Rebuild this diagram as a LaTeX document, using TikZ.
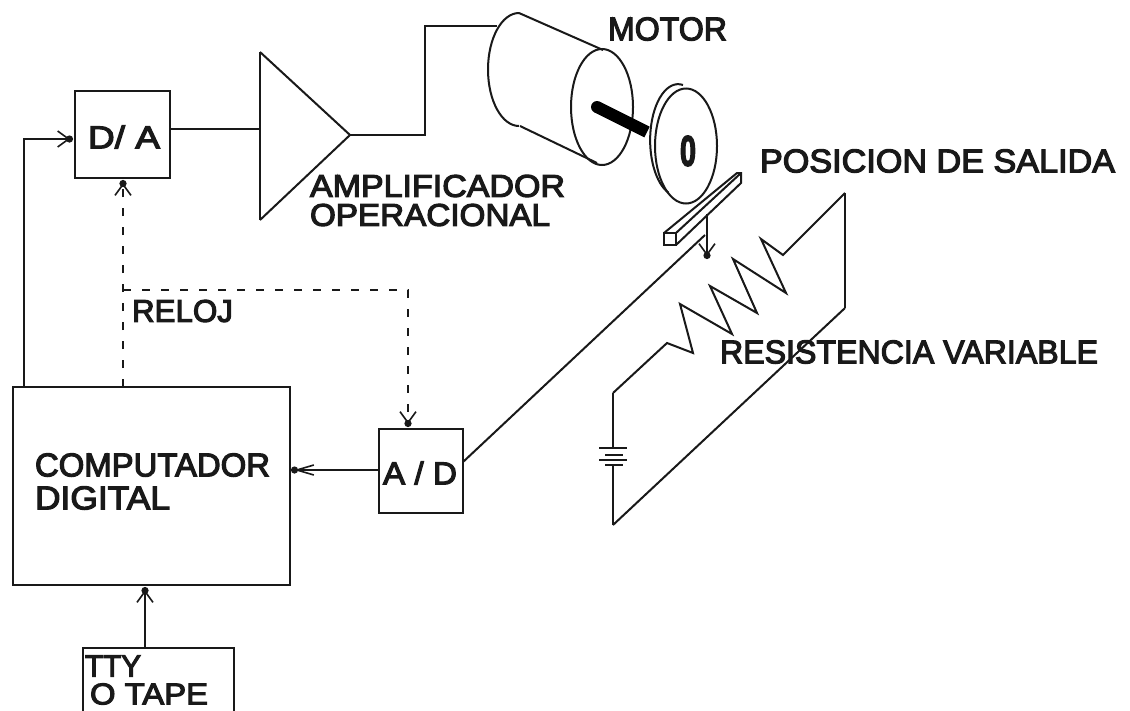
\documentclass[tikz,border=0pt]{standalone}
\usepackage{fontspec}
\usepackage{graphicx}
\setmainfont[FakeBold=3.5]{Liberation Sans}
\usetikzlibrary{arrows.meta}
\newcommand{\fitted}[3]{\resizebox{#1pt}{#2pt}{#3}}
\tikzset{
  blockbox/.style={draw=inkc,line width=2.7pt,anchor=north west,inner sep=0pt,outer sep=0pt},
  wire/.style={draw=inkc,line width=2.6pt},
  thinwire/.style={draw=inkc,line width=2pt},
  dashwire/.style={draw=inkc,line width=2.7pt,dash pattern=on 8pt off 11pt},
  barbtip/.style={-{Straight Barb[length=11pt,width=16pt,line width=1.6pt,sep=-4pt]Circle[length=7pt,sep=2pt]}},
  narrowtip/.style={-{Straight Barb[length=17pt,width=10pt,line width=1.6pt,sep=-4pt]Circle[length=7pt,sep=0pt]}},
  label/.style={anchor=west,inner sep=0pt,outer sep=0pt,text=inkc}
}
\definecolor{inkc}{RGB}{25,25,25}
\begin{document}
\begin{tikzpicture}[x=1pt,y=1pt,yscale=-1]
\path[use as bounding box,fill=white] (0,0) rectangle (1130,710);
\clip (0,0) rectangle (1130,710);

% blocks
\node[blockbox,minimum width=95pt,minimum height=87pt] (da) at (75,91) {};
\node[blockbox,minimum width=277pt,minimum height=198pt] (comp) at (13,387) {};
\node[blockbox,minimum width=84pt,minimum height=84pt] (ad) at (379,429) {};
\coordinate (ttyTop) at (145,648);
\draw[wire] (83,714) -- (83,648) -- (234,648) -- (234,714);

% amplifier
\coordinate (ampTop) at (260,52);
\coordinate (ampBot) at (260,220);
\coordinate (ampTip) at (350,135);
\draw[wire] (ampTop) -- (ampBot);
\draw[thinwire] (ampTop) -- (ampTip) -- (ampBot);

% connectors
\coordinate (ampIn) at (260,129);
\coordinate (daOut) at (170,129);
\draw[wire] (daOut) -- (ampIn);
\coordinate (compL) at (24,387);
\coordinate (daIn) at (75,139);
\draw[wire,barbtip] (compL) |- (daIn);
\coordinate (compM) at (123,387);
\coordinate (daClk) at (123,178);
\draw[dashwire,barbtip] (compM) -- (daClk);
\coordinate (clkBr) at (123,290);
\coordinate (adClk) at (408,429);
\draw[dashwire,barbtip] (clkBr) -| (adClk);
\coordinate (adW) at (379,470);
\coordinate (compR) at (291,470);
\draw[wire,narrowtip] (adW) -- (compR);
\coordinate (compB) at (145,585);
\draw[wire,barbtip] (ttyTop) -- (compB);
\coordinate (motorIn) at (497,26);
\draw[wire] (ampTip) -- (425,135) -- (425,26) -- (motorIn);

% motor
\draw[thinwire] (519,13) arc[start angle=270,end angle=90,x radius=31,y radius=56.5];
\draw[thinwire] (519,13) -- (603,50);
\draw[thinwire] (520,126) -- (597,163);
\draw[thinwire] (602,107) ellipse[x radius=31,y radius=58];
\draw[draw=black,line width=12pt] (597,107) -- (647,132);
\fill[black] (597,107) circle[radius=6];

% disc
\draw[thinwire] (683,85) arc[start angle=280,end angle=110,x radius=28,y radius=56];
\draw[thinwire] (686,146) ellipse[x radius=31,y radius=57.5];

% slider bar
\draw[thinwire] (664,233) rectangle (676,245);
\draw[thinwire] (664,233) -- (737,173) -- (741,173) -- (741,183) -- (676,245);
\draw[thinwire] (676,233) -- (741,173);

% wiper
\coordinate (wipA) at (707,214);
\coordinate (wipB) at (707,261);
\draw[wire,barbtip] (wipA) -- (wipB);

% feedback wire
\coordinate (adE) at (463,462);
\coordinate (slide) at (705,235);
\draw[thinwire] (adE) -- (slide);

% resistor loop and battery
\draw[thinwire] (613,393) -- (667,343) -- (693,353) -- (680,304) -- (732,334) -- (710,286) -- (757,313) -- (733,259) -- (786,293) -- (761,239) -- (783,255) -- (845,193);
\draw[thinwire] (845,308) -- (613,525);
\draw[wire] (845,193) -- (845,308);
\draw[wire] (613,448) -- (613,393);
\draw[wire] (613,525) -- (613,465);
\draw[wire] (599,448) -- (627,448);
\draw[wire] (605,455) -- (623,455);
\draw[wire] (599,460) -- (627,460);
\draw[wire] (605,465) -- (623,465);

% labels
\node[label] (tda) at (88,137) {\fitted{72}{23}{D/ A}};
\node[label] (tad) at (383,473) {\fitted{74}{23}{A / D}};
\node[label] (trel) at (132,311) {\fitted{101}{22}{RELOJ}};
\node[label] (tc1) at (35,465) {\fitted{235}{23}{COMPUTADOR}};
\node[label] (tc2) at (35,498) {\fitted{135}{23}{DIGITAL}};
\node[label] (tt1) at (85,666) {\fitted{56}{21}{TTY}};
\node[label] (tt2) at (90,694) {\fitted{118}{21}{O TAPE}};
\node[label] (tmot) at (608,29) {\fitted{119}{23}{MOTOR}};
\node[label] (tam1) at (310,186) {\fitted{255}{22}{AMPLIFICADOR}};
\node[label] (tam2) at (310,215) {\fitted{240}{22}{OPERACIONAL}};
\node[label] (tpos) at (760,161) {\fitted{355}{23}{POSICION DE SALIDA}};
\node[label] (tres) at (720,352) {\fitted{378}{23}{RESISTENCIA VARIABLE}};
\node[label] (tzero) at (680,151) {\fitted{16}{30}{\textbf{0}}};
\end{tikzpicture}
\end{document}
